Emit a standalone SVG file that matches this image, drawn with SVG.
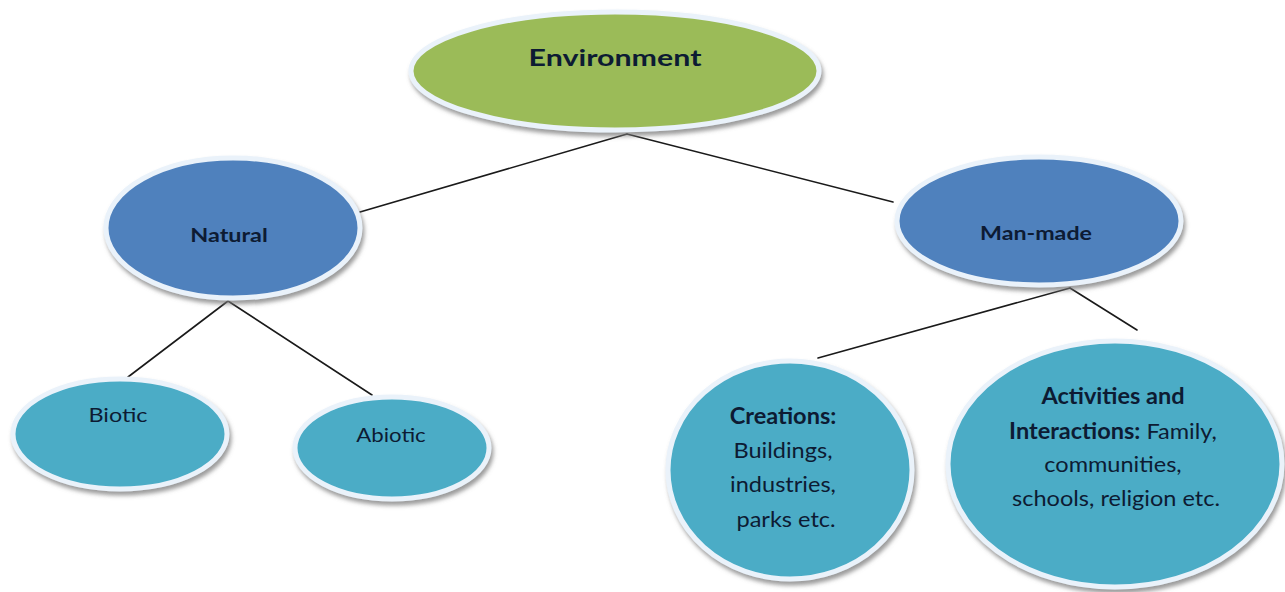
<svg xmlns="http://www.w3.org/2000/svg" width="1285" height="592" viewBox="0 0 1285 592">
  <style>
    .rim { stroke: #eaf2fa; stroke-width: 5; filter: url(#shadow); }
    .green { fill: #9bbb59; }
    .blue { fill: #4f81bd; }
    .teal { fill: #4bacc6; }
    .lbl { font-family: Lato, "Open Sans", "Liberation Sans", sans-serif; fill: #0d1b33; text-anchor: middle; }
    .b { font-weight: bold; }
    .conn line { stroke: #1a1a1a; stroke-width: 1.6; stroke-linecap: round; }
  </style>
  <defs>
    <filter id="shadow" x="-10%" y="-10%" width="125%" height="135%">
      <feGaussianBlur in="SourceAlpha" stdDeviation="2"/>
      <feOffset dx="2" dy="4" result="ob"/>
      <feFlood flood-color="#7a7a7a" flood-opacity="0.75"/>
      <feComposite in2="ob" operator="in"/>
      <feMerge>
        <feMergeNode/>
        <feMergeNode in="SourceGraphic"/>
      </feMerge>
    </filter>
  </defs>
  <rect width="1285" height="592" fill="#ffffff"/>

  <g id="connectors" class="conn">
    <line x1="627" y1="134" x2="360" y2="212"/>
    <line x1="627" y1="134" x2="893" y2="202"/>
    <line x1="228" y1="301" x2="128" y2="377"/>
    <line x1="228" y1="301" x2="372" y2="395"/>
    <line x1="1070" y1="288" x2="818" y2="358"/>
    <line x1="1070" y1="288" x2="1137" y2="330"/>
  </g>

  <g id="environment">
    <ellipse class="rim green" cx="615" cy="71" rx="204" ry="59"/>
    <text class="lbl b" transform="matrix(1.32 0 0 1 615 66)" font-size="23" fill="#111">Environment</text>
  </g>
  <g id="natural">
    <ellipse class="rim blue" cx="233" cy="228" rx="127" ry="70"/>
    <text class="lbl b" transform="matrix(1.2 0 0 1 229 242)" font-size="19.5">Natural</text>
  </g>
  <g id="man-made">
    <ellipse class="rim blue" cx="1039" cy="221" rx="142" ry="64"/>
    <text class="lbl b" transform="matrix(1.19 0 0 1 1036 240)" font-size="19.5">Man-made</text>
  </g>
  <g id="biotic">
    <ellipse class="rim teal" cx="120" cy="434" rx="107" ry="55"/>
    <text class="lbl" transform="matrix(1.23 0 0 1 118 422)" font-size="19">Biotic</text>
  </g>
  <g id="abiotic">
    <ellipse class="rim teal" cx="392" cy="448" rx="97" ry="51"/>
    <text class="lbl" transform="matrix(1.17 0 0 1 391 442)" font-size="19">Abiotic</text>
  </g>
  <g id="creations">
    <ellipse class="rim teal" cx="790" cy="470" rx="122" ry="109"/>
    <text class="lbl" transform="matrix(1.07 0 0 1 786 0)" font-size="22">
      <tspan class="b" x="0" y="424">Creations:</tspan>
      <tspan x="0" y="458">Buildings,</tspan>
      <tspan x="0" y="492">industries,</tspan>
      <tspan x="0" y="527">parks etc.</tspan>
    </text>
  </g>
  <g id="activities">
    <ellipse class="rim teal" cx="1115" cy="464" rx="167" ry="123"/>
    <text class="lbl" transform="matrix(1.07 0 0 1 1116 0)" font-size="22">
      <tspan class="b" x="0" y="404">Activities and</tspan>
      <tspan x="0" y="439"><tspan class="b">Interactions:</tspan> Family,</tspan>
      <tspan x="0" y="472">communities,</tspan>
      <tspan x="0" y="506">schools, religion  etc.</tspan>
    </text>
  </g>
</svg>
